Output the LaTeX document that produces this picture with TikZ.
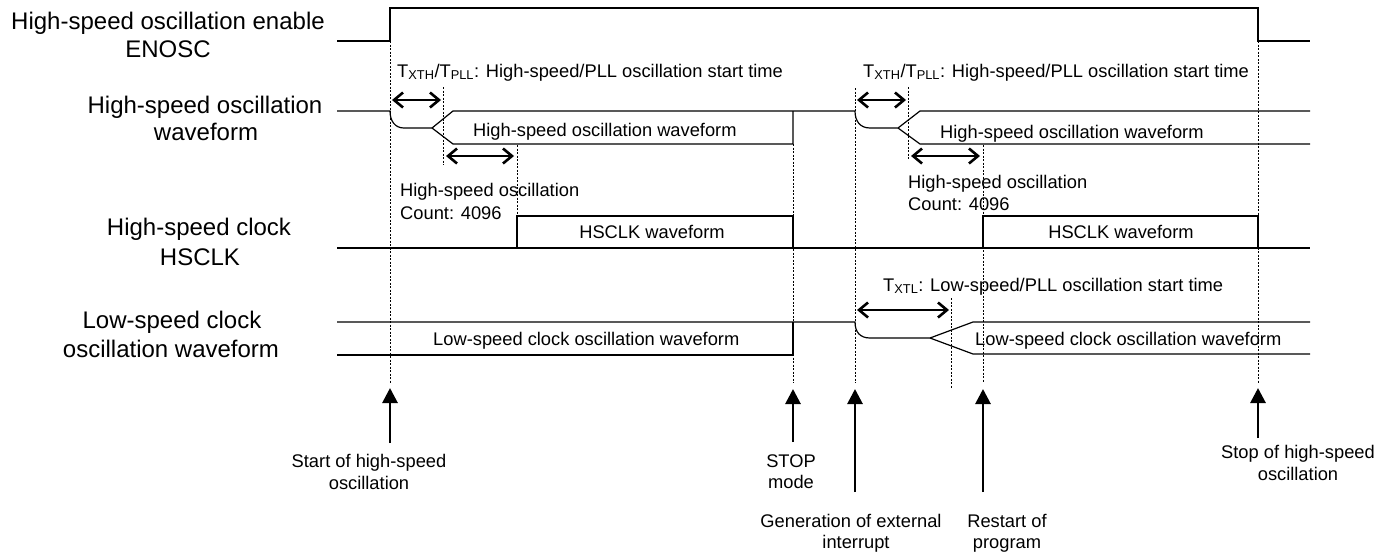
\documentclass[tikz,border=0pt]{standalone}
\usepackage{fontspec}
\setmainfont{Liberation Sans}
\usetikzlibrary{arrows.meta}

\begin{document}
\begin{tikzpicture}[x=1pt,y=-1pt,
  sig/.style={line width=1.2pt},
  guide/.style={line width=0.7pt,dash pattern=on 2pt off 1.5pt},
  spanarrow/.style={line width=2.6pt,{Straight Barb[length=9pt,width=15pt]}-{Straight Barb[length=9pt,width=15pt]}},
  riser/.style={line width=2.8pt,-{Triangle[length=15pt,width=15pt]}},
  lbl/.style={anchor=base,inner sep=0pt,font=\fontsize{24}{29}\selectfont},
  txt/.style={anchor=base,inner sep=0pt,font=\fontsize{18.3}{22}\selectfont},
  txtw/.style={txt,anchor=base west}]

\useasboundingbox (0,0) rectangle (1392,555);

% signal names
\node[lbl] (enA) at (168,29) {High-speed oscillation enable};
\node[lbl] (enB) at (168,57) {ENOSC};
\node[lbl] (hsA) at (205,113) {High-speed oscillation};
\node[lbl] (hsB) at (206,140) {waveform};
\node[lbl] (ckA) at (199,235) {High-speed clock};
\node[lbl] (ckB) at (200,265) {HSCLK};
\node[lbl] (lsA) at (172,328) {Low-speed clock};
\node[lbl] (lsB) at (171,357) {oscillation waveform};

% ENOSC
\draw[sig] (337,41) -- (390,41) -- (390,8) -- (1258,8) -- (1258,41) -- (1310,41);

% high-speed oscillation
\draw[sig] (337,111) -- (390,111) .. controls (390,121) and (395,128) .. (404,128) -- (432,128) -- (453,111)
  -- (855,111) .. controls (855,121) and (860,128) .. (870,128) -- (898,128) -- (920,111) -- (1310,111);
\draw[sig] (432,128) -- (453,144) -- (793,144) -- (793,111);
\draw[sig] (898,128) -- (920,144) -- (1310,144);

% HSCLK
\draw[sig] (337,248) -- (1310,248);
\draw[sig] (517,248) -- (517,216) -- (793,216) -- (793,248);
\draw[sig] (983,248) -- (983,216) -- (1258,216) -- (1258,248);

% low-speed clock
\draw[sig] (337,322) -- (855,322) .. controls (855,332) and (860,338) .. (870,338) -- (930,338) -- (973,322) -- (1310,322);
\draw[sig] (337,355) -- (793,355) -- (793,322);
\draw[sig] (930,338) -- (973,354) -- (1310,354);

% timing guides
\draw[guide] (390,41) -- (390,383);
\draw[guide] (443,87) -- (443,165);
\draw[guide] (517,145) -- (517,216);
\draw[guide] (793,144) -- (793,383);
\draw[guide] (855,88) -- (855,383);
\draw[guide] (908,87) -- (908,160);
\draw[guide] (983,145) -- (983,383);
\draw[guide] (951,298) -- (951,388);
\draw[guide] (1258,41) -- (1258,383);

% intervals
\coordinate (xthA1) at (392,100);
\coordinate (xthA2) at (441,100);
\coordinate (cntA1) at (446,156);
\coordinate (cntA2) at (514,156);
\coordinate (xthB1) at (857,100);
\coordinate (xthB2) at (906,100);
\coordinate (cntB1) at (911,156);
\coordinate (cntB2) at (980,156);
\coordinate (xtl1) at (857,310);
\coordinate (xtl2) at (949,310);
\draw[spanarrow] (xthA1) -- (xthA2);
\draw[spanarrow] (cntA1) -- (cntA2);
\draw[spanarrow] (xthB1) -- (xthB2);
\draw[spanarrow] (cntB1) -- (cntB2);
\draw[spanarrow] (xtl1) -- (xtl2);

\node[txtw] (thA) at (397,77) {T\textsubscript{XTH}/T\textsubscript{PLL}: High-speed/PLL oscillation start time};
\node[txtw] (thB) at (863,77) {T\textsubscript{XTH}/T\textsubscript{PLL}: High-speed/PLL oscillation start time};
\node[txtw] (tl) at (883,291) {T\textsubscript{XTL}: Low-speed/PLL oscillation start time};
\node[txtw] (cnA1) at (400,196) {High-speed oscillation};
\node[txtw] (cnA2) at (400,219) {Count: 4096};
\node[txtw] (cnB1) at (908,188) {High-speed oscillation};
\node[txtw] (cnB2) at (908,210) {Count: 4096};

% waveform names
\node[txtw] (wfA) at (473,136) {High-speed oscillation waveform};
\node[txtw] (wfB) at (940,138) {High-speed oscillation waveform};
\node[txt] (ckwA) at (652,238) {HSCLK waveform};
\node[txt] (ckwB) at (1121,238) {HSCLK waveform};
\node[txtw] (lswA) at (433,345) {Low-speed clock oscillation waveform};
\node[txtw] (lswB) at (975,345) {Low-speed clock oscillation waveform};

% events
\coordinate (evA) at (390,443);
\coordinate (tipA) at (390,388);
\coordinate (evB) at (793,442);
\coordinate (tipB) at (793,389);
\coordinate (evC) at (855,492);
\coordinate (tipC) at (855,389);
\coordinate (evD) at (983,492);
\coordinate (tipD) at (983,389);
\coordinate (evE) at (1258,438);
\coordinate (tipE) at (1258,388);
\draw[riser] (evA) -- (tipA);
\draw[riser] (evB) -- (tipB);
\draw[riser] (evC) -- (tipC);
\draw[riser] (evD) -- (tipD);
\draw[riser] (evE) -- (tipE);

\node[txt] (evA1) at (369,467) {Start of high-speed};
\node[txt] (evA2) at (369,489) {oscillation};
\node[txt] (evB1) at (791,467) {STOP};
\node[txt] (evB2) at (791,488) {mode};
\node[txt] (evC1) at (851,527) {Generation of external};
\node[txt] (evC2) at (856,548) {interrupt};
\node[txt] (evD1) at (1007,527) {Restart of};
\node[txt] (evD2) at (1007,548) {program};
\node[txt] (evE1) at (1298,458) {Stop of high-speed};
\node[txt] (evE2) at (1298,480) {oscillation};
\end{tikzpicture}
\end{document}
